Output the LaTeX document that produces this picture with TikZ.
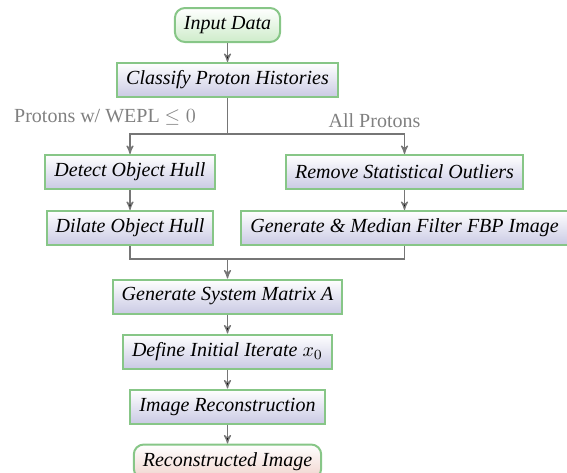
\documentclass[tikz,border=0pt]{standalone}
\usepackage{fontspec}
\setmainfont{Liberation Serif}
\usetikzlibrary{arrows, positioning}
\definecolor{boxgreen}{RGB}{135,198,135}
\definecolor{boxlav}{RGB}{202,202,228}
\definecolor{startgreen}{RGB}{206,236,202}
\definecolor{endpink}{RGB}{240,212,206}
\definecolor{flowgray}{RGB}{118,118,118}
\definecolor{labelgray}{RGB}{128,128,128}

\begin{document}
\begin{tikzpicture}[node distance=27.5pt,on grid,auto,font=\itshape,>=stealth']
    \tikzstyle{process}=[shape=rectangle,draw=boxgreen,line width=1pt,top color=white,bottom color=boxlav,minimum height=17pt,inner xsep=4.5pt]
    \tikzstyle{terminal}=[process,rounded corners=5pt,bottom color=startgreen]
    \tikzstyle{flow}=[draw=flowgray,line width=0.6pt]
    \tikzstyle{branch}=[font=\upshape,text=labelgray]

    \useasboundingbox (0,0) rectangle (283.5pt,-236pt);

    \node[terminal] (In) at (113.75pt,-12.5pt) {Input Data};
    \node[process, below of=In] (Cls) {Classify Proton Histories};
    \coordinate[below of=Cls, node distance=27pt] (split);

    \node[process, below of=split, node distance=19pt, xshift=-48.75pt] (Det) {Detect Object Hull};
    \node[process, below of=split, node distance=19pt, xshift=88.5pt] (Rem) {Remove Statistical Outliers};
    \node[process, below of=Det, node distance=28pt] (Dil) {Dilate Object Hull};
    \node[process, below of=Rem, node distance=28pt] (FBP) {Generate \& Median Filter FBP Image};

    \node[branch, above of=split, node distance=8.5pt, xshift=-61.25pt] (lowW) {Protons w/ WEPL $\leq 0$};
    \node[branch, above of=split, node distance=6.5pt, xshift=73.5pt] (allP) {All Protons};

    \node[process, below of=Cls, node distance=108.25pt] (GSM) {Generate System Matrix A};
    \coordinate[above of=GSM, node distance=18.75pt] (merge);
    \node[process, below of=GSM] (Ini) {Define Initial Iterate $x_0$};
    \node[process, below of=Ini] (Rec) {Image Reconstruction};
    \node[terminal, below of=Rec, bottom color=endpink] (Out) {Reconstructed Image};

    \path[flow,->]
    (In) edge (Cls)
    (Det) edge (Dil)
    (Rem) edge (FBP)
    (GSM) edge (Ini)
    (Ini) edge (Rec)
    (Rec) edge (Out)
    ;

    \draw[flow] (Cls) -- (split);
    \draw[flow,->] (split) -| (Det);
    \draw[flow,->] (split) -| (Rem);
    \draw[flow] (Dil) |- (merge);
    \draw[flow] (FBP) |- (merge);
    \draw[flow,->] (merge) -- (GSM);

  \end{tikzpicture}
\end{document}
